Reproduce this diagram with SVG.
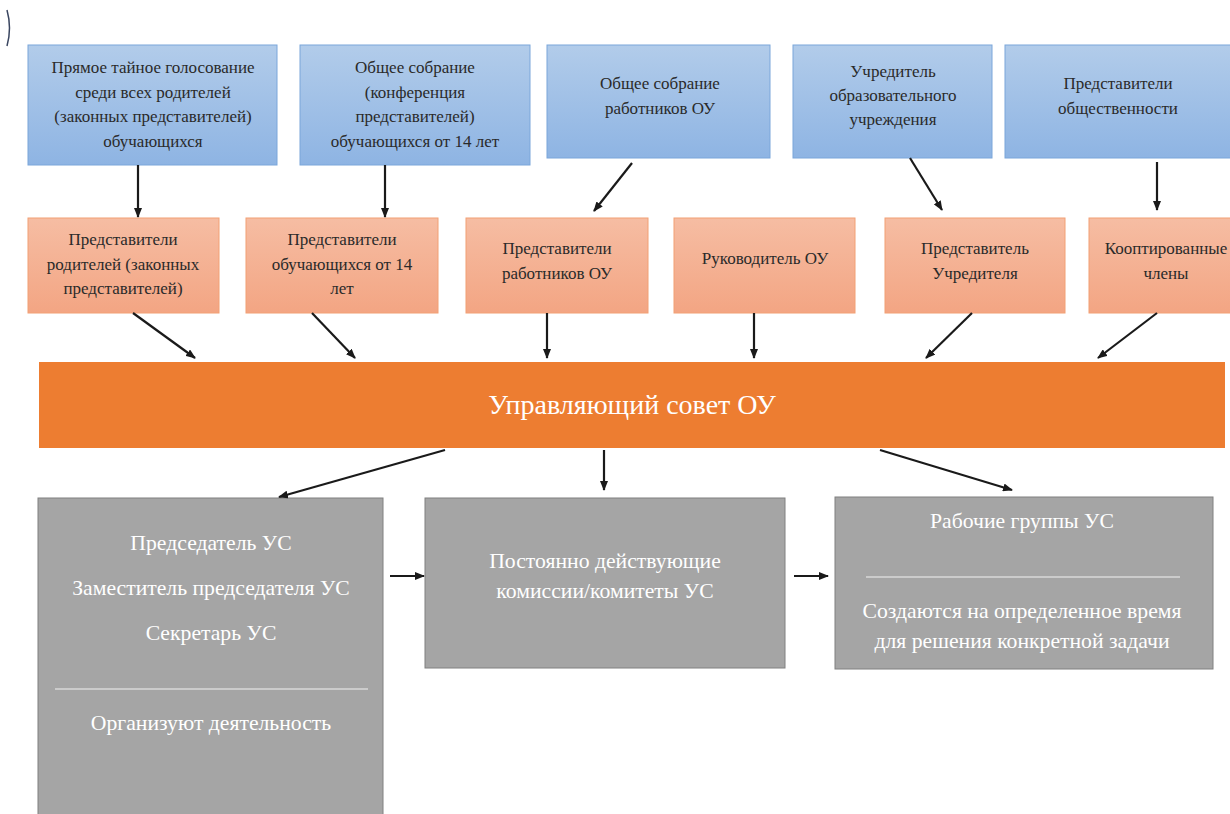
<svg xmlns="http://www.w3.org/2000/svg" width="1230" height="814" viewBox="0 0 1230 814">
<style>
.blue{fill:url(#gBlue);stroke:#7AA6DA;stroke-width:1}
.orng{fill:url(#gOrng);stroke:#F2A074;stroke-width:1}
.gray{fill:#A5A5A5;stroke:#808080;stroke-width:1}
.t{font-family:"Liberation Serif","Times New Roman",serif;font-size:17px;fill:#2A2A2A;text-anchor:middle}
.w{font-family:"Liberation Serif","Times New Roman",serif;font-size:21.7px;fill:#FFFFFF;text-anchor:middle}
.big{font-family:"Liberation Serif","Times New Roman",serif;font-size:28px;fill:#FFFFFF;text-anchor:middle}
.sep{stroke:#D9D9D9;stroke-width:1.5}
.conn line{stroke:#1A1A1A;stroke-width:2.2;marker-end:url(#ah)}
</style>
<defs>
<linearGradient id="gBlue" x1="0" y1="0" x2="0" y2="1">
<stop offset="0" stop-color="#B2CCEA"/>
<stop offset="1" stop-color="#8EB4E3"/>
</linearGradient>
<linearGradient id="gOrng" x1="0" y1="0" x2="0" y2="1">
<stop offset="0" stop-color="#F6BDA3"/>
<stop offset="1" stop-color="#F3A583"/>
</linearGradient>
<marker id="ah" viewBox="0 0 10 8" refX="9" refY="4" markerWidth="10" markerHeight="8" markerUnits="userSpaceOnUse" orient="auto">
<path d="M0,0 L10,4 L0,8 z" fill="#1A1A1A"/>
</marker>
</defs>
<rect width="1230" height="814" fill="#FFFFFF"/>
<path d="M7,10 Q12,28 7,46" fill="none" stroke="#3A4660" stroke-width="1.5"/>

<g id="b1"><rect class="blue" x="28" y="45" width="249" height="120"/>
<text class="t" x="153" y="73">Прямое тайное голосование</text>
<text class="t" x="153" y="97.5">среди всех родителей</text>
<text class="t" x="153" y="122">(законных представителей)</text>
<text class="t" x="153" y="146.5">обучающихся</text></g>

<g id="b2"><rect class="blue" x="300" y="45" width="230" height="120"/>
<text class="t" x="415" y="73">Общее собрание</text>
<text class="t" x="415" y="97.5">(конференция</text>
<text class="t" x="415" y="122">представителей)</text>
<text class="t" x="415" y="146.5">обучающихся от 14 лет</text></g>

<g id="b3"><rect class="blue" x="547" y="45" width="223" height="113"/>
<text class="t" x="660" y="89">Общее собрание</text>
<text class="t" x="660" y="113.5">работников ОУ</text></g>

<g id="b4"><rect class="blue" x="793" y="45" width="199" height="113"/>
<text class="t" x="893" y="77">Учредитель</text>
<text class="t" x="893" y="101">образовательного</text>
<text class="t" x="893" y="125">учреждения</text></g>

<g id="b5"><rect class="blue" x="1005" y="45" width="230" height="113"/>
<text class="t" x="1118" y="89">Представители</text>
<text class="t" x="1118" y="113.5">общественности</text></g>

<g id="o1"><rect class="orng" x="28" y="218" width="191" height="95"/>
<text class="t" x="123" y="245">Представители</text>
<text class="t" x="123" y="269.5">родителей (законных</text>
<text class="t" x="123" y="294">представителей)</text></g>

<g id="o2"><rect class="orng" x="246" y="218" width="192" height="95"/>
<text class="t" x="342" y="245">Представители</text>
<text class="t" x="342" y="269.5">обучающихся от 14</text>
<text class="t" x="342" y="294">лет</text></g>

<g id="o3"><rect class="orng" x="466" y="218" width="182" height="95"/>
<text class="t" x="557" y="254">Представители</text>
<text class="t" x="557" y="278.5">работников ОУ</text></g>

<g id="o4"><rect class="orng" x="674" y="218" width="181" height="95"/>
<text class="t" x="765" y="264">Руководитель ОУ</text></g>

<g id="o5"><rect class="orng" x="885" y="218" width="180" height="95"/>
<text class="t" x="975" y="254">Представитель</text>
<text class="t" x="975" y="278.5">Учредителя</text></g>

<g id="o6"><rect class="orng" x="1089" y="218" width="146" height="95"/>
<text class="t" x="1166" y="254">Кооптированные</text>
<text class="t" x="1166" y="278.5">члены</text></g>

<g id="council"><rect x="39" y="362" width="1186" height="86" fill="#ED7D31"/>
<text class="big" x="632" y="414">Управляющий совет ОУ</text></g>

<g id="g1"><rect class="gray" x="38" y="498" width="345" height="330"/>
<text class="w" x="211" y="550">Председатель УС</text>
<text class="w" x="211" y="595">Заместитель председателя УС</text>
<text class="w" x="211" y="640">Секретарь УС</text>
<line class="sep" x1="55" y1="689" x2="368" y2="689"/>
<text class="w" x="211" y="730">Организуют деятельность</text></g>

<g id="g2"><rect class="gray" x="425" y="498" width="360" height="170"/>
<text class="w" x="605" y="568">Постоянно действующие</text>
<text class="w" x="605" y="598">комиссии/комитеты УС</text></g>

<g id="g3"><rect class="gray" x="835" y="497" width="378" height="172"/>
<text class="w" x="1022" y="528">Рабочие группы УС</text>
<line class="sep" x1="866" y1="577" x2="1180" y2="577"/>
<text class="w" x="1022" y="618">Создаются на определенное время</text>
<text class="w" x="1022" y="648">для решения конкретной задачи</text></g>

<g id="connectors" class="conn">
<line x1="138" y1="165" x2="138" y2="217"/>
<line x1="385" y1="165" x2="385" y2="217"/>
<line x1="632" y1="163" x2="594" y2="211"/>
<line x1="910" y1="158" x2="942" y2="210"/>
<line x1="1157" y1="162" x2="1157" y2="210"/>
<line x1="133" y1="313" x2="195" y2="358"/>
<line x1="312" y1="313" x2="355" y2="358"/>
<line x1="547" y1="313" x2="547" y2="358"/>
<line x1="754" y1="313" x2="754" y2="358"/>
<line x1="972" y1="313" x2="926" y2="358"/>
<line x1="1157" y1="313" x2="1098" y2="358"/>
<line x1="445" y1="450" x2="279" y2="497"/>
<line x1="604" y1="450" x2="604" y2="490"/>
<line x1="880" y1="450" x2="1012" y2="490"/>
<line x1="390" y1="576" x2="424" y2="576"/>
<line x1="794" y1="576" x2="828" y2="576"/>
</g>
</svg>
